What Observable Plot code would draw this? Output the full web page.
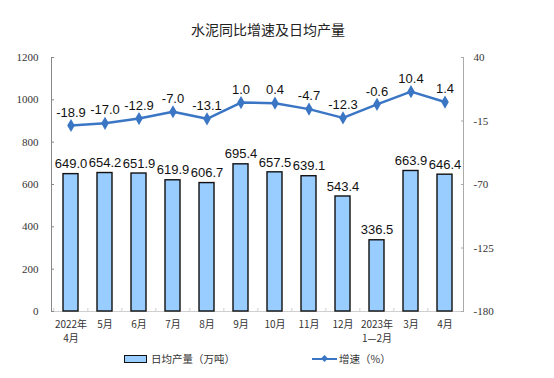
<!DOCTYPE html>
<html><head><meta charset="utf-8">
<script src="https://cdn.jsdelivr.net/npm/d3@7"></script>
<script src="https://cdn.jsdelivr.net/npm/@observablehq/plot@0.6"></script>
<style>
body{margin:0;background:#fff;width:554px;height:378px;overflow:hidden;font-family:"Noto Sans CJK SC",sans-serif}
#title{height:45px;position:relative}
#title span{position:absolute;left:0;width:536px;text-align:center;top:19px;font-size:14px;color:#222;line-height:20px}
#chart svg{display:block}
#legend{position:relative;height:33px;font-size:10.5px;color:#333}
.item{position:absolute;top:6px;height:16px;line-height:16px;white-space:nowrap}
.sw-bar{position:absolute;top:4px;left:0;width:21px;height:6px;background:#99CCFF;border:1.5px solid #111}
.sw-line{position:absolute;top:7px;left:0;width:25px;height:2px;background:#3B76C5}
.sw-dot{position:absolute;top:5px;left:10px;width:5px;height:5px;background:#3B76C5;transform:rotate(45deg)}
.lbl{position:absolute;top:0;left:27px}
</style></head><body>
<div id="title"><span>水泥同比增速及日均产量</span></div>
<div id="chart"></div>
<div id="legend">
  <div class="item" style="left:124px"><div class="sw-bar"></div><span class="lbl">日均产量（万吨）</span></div>
  <div class="item" style="left:312px"><div class="sw-line"></div><div class="sw-dot"></div><span class="lbl">增速（%）</span></div>
</div>
<script>
const months = ["2022年\n4月","5月","6月","7月","8月","9月","10月","11月","12月","2023年\n1—2月","3月","4月"];
const output = [649.0,654.2,651.9,619.9,606.7,695.4,657.5,639.1,543.4,336.5,663.9,646.4];
const growth = [-18.9,-17.0,-12.9,-7.0,-13.1,1.0,0.4,-4.7,-12.3,-0.6,10.4,1.4];
const leftTicks = [0,200,400,600,800,1000,1200];
const rightTicks = [-180,-125,-70,-15,40];

const leftMax = 1200, rightMin = -180, rightMax = 40;
const toLeft = v => (v - rightMin) / (rightMax - rightMin) * leftMax;
const toRight = d => String(Math.round(d / leftMax * (rightMax - rightMin) + rightMin));
const data = months.map((m, i) => ({m, output: output[i], growth: growth[i], g: toLeft(growth[i])}));

const W = 554, ML = 51, MR = 91;
const step = (W - ML - MR) / months.length;
const blue = "#3B76C5";
const serif = "'Liberation Serif', 'Times New Roman', serif";
const sans = "'Liberation Sans', Arial, sans-serif";

const chart = Plot.plot({
  width: W, height: 300, marginTop: 12, marginBottom: 34, marginLeft: ML, marginRight: MR,
  style: {fontFamily: serif, fontSize: "11px", color: "#333", background: "#fff"},
  x: {domain: months, paddingInner: 0.56, paddingOuter: 0.28, label: null},
  y: {domain: [0, leftMax], label: null},
  marks: [
    Plot.ruleY([0], {stroke: "#cfcfcf"}),
    Plot.frame({anchor: "left", stroke: "#888"}),
    Plot.frame({anchor: "right", stroke: "#aaa"}),
    Plot.axisY(leftTicks, {anchor: "left", tickSize: -3, tickPadding: 16, stroke: "#888", tickFormat: d => String(d), fontFamily: serif, fontSize: 11, fill: "#333", label: null}),
    Plot.axisY(rightTicks.map(toLeft), {anchor: "right", tickSize: -3, tickPadding: 13, stroke: "#aaa", tickFormat: toRight, fontFamily: serif, fontSize: 11, fill: "#333", label: null}),
    Plot.axisX({tickSize: 0, tickPadding: 7, fontFamily: "'Noto Sans CJK SC', sans-serif", fontSize: 10, lineHeight: 1.35, fill: "#333", label: null}),
    Plot.axisX({tickSize: -3, text: null, dx: -step / 2, stroke: "#cfcfcf", label: null}),
    Plot.barY(data, {x: "m", y: "output", fill: "#99CCFF", stroke: "#111", strokeWidth: 1.4}),
    Plot.text(data, {x: "m", y: "output", text: d => d.output.toFixed(1), dy: -10, fontFamily: sans, fontSize: 13, fill: "#111"}),
    Plot.line(data, {x: "m", y: "g", stroke: blue, strokeWidth: 2.5}),
    Plot.dot(data, {x: "m", y: "g", symbol: "diamond", r: 4, fill: blue}),
    Plot.text(data, {x: "m", y: "g", text: d => d.growth.toFixed(1), dy: -13, fontFamily: sans, fontSize: 13, fill: "#111"})
  ]
});
document.getElementById("chart").appendChild(chart);
</script>
</body></html>
